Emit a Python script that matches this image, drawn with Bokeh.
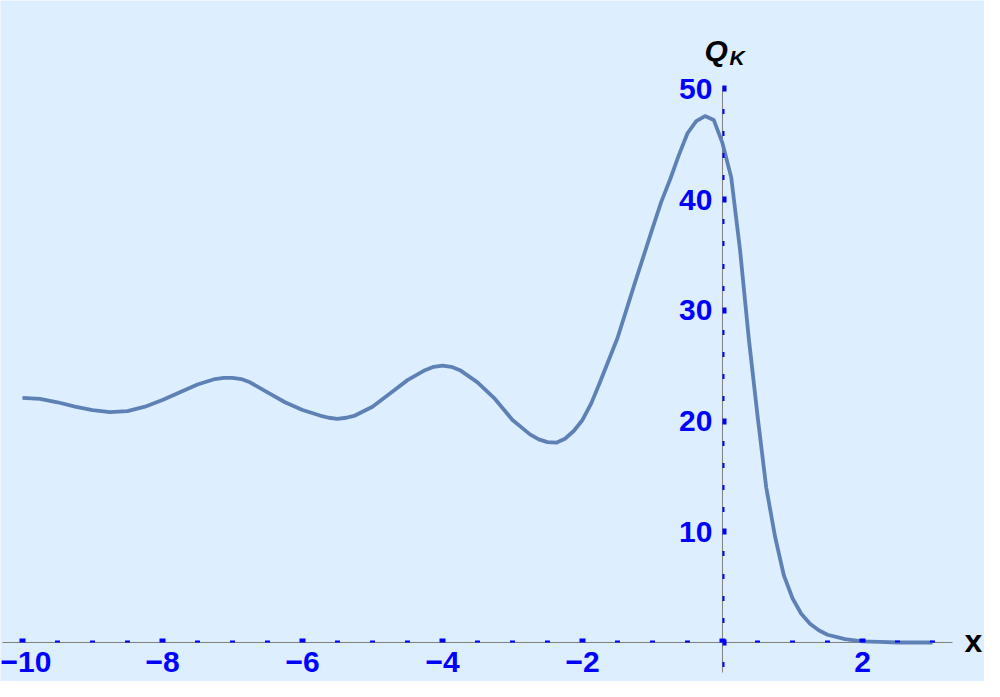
from bokeh.plotting import figure
from bokeh.models import LinearAxis, FixedTicker, Range1d, Label
from bokeh.embed import file_html
from bokeh.resources import INLINE

# ---- data ----
x_vals = [-10, -9.75, -9.5, -9.25, -9, -8.75, -8.5, -8.25, -8, -7.75, -7.5, -7.25,
          -7.125, -7, -6.875, -6.75, -6.5, -6.25, -6, -5.75, -5.625, -5.5, -5.375,
          -5.25, -5, -4.75, -4.5, -4.25, -4.125, -4, -3.875, -3.75, -3.5, -3.25,
          -3, -2.75, -2.625, -2.5, -2.375, -2.25, -2.125, -2, -1.875, -1.75,
          -1.5, -1.25, -1, -0.875, -0.75, -0.625, -0.5, -0.375, -0.25, -0.125,
          0, 0.125, 0.25, 0.375, 0.5, 0.625, 0.75, 0.875, 1, 1.125, 1.25, 1.375,
          1.5, 1.75, 2, 2.25, 2.5, 2.75, 3]
q_vals = [22.1, 22.0, 21.7, 21.3, 21.0, 20.8, 20.9, 21.3, 21.9, 22.6, 23.3, 23.8,
          23.9, 23.9, 23.8, 23.5, 22.6, 21.7, 21.0, 20.5, 20.3, 20.2, 20.3,
          20.5, 21.3, 22.5, 23.7, 24.6, 24.9, 25.0, 24.9, 24.6, 23.5, 22.0,
          20.1, 18.8, 18.35, 18.1, 18.05, 18.4, 19.1, 20.1, 21.6, 23.5,
          27.5, 32.5, 37.4, 39.8, 41.8, 44.0, 46.0, 47.1, 47.55, 47.2,
          45.1, 42.0, 35.5, 27.5, 20.5, 14.0, 9.6, 6.1, 4.0, 2.6, 1.7, 1.1,
          0.7, 0.3, 0.1, 0.05, 0.0, 0.0, 0.0]

x_major = [-10, -8, -6, -4, -2, 0, 2]
x_major_labels = ["\u221210", "\u22128", "\u22126", "\u22124", "\u22122", "", "2"]
x_minor = [-9.5, -9, -8.5, -7.5, -7, -6.5, -5.5, -5, -4.5, -3.5, -3, -2.5,
           -1.5, -1, -0.5, 0.5, 1, 1.5, 2.5, 3]
y_major = [0, 10, 20, 30, 40, 50]
y_major_labels = ["", "10", "20", "30", "40", "50"]
y_minor = [-2, 2, 4, 6, 8, 12, 14, 16, 18, 22, 24, 26, 28, 32, 34, 36, 38,
           42, 44, 46, 48]

# extent of the drawn axis lines (plot range with padding)
x_axis_extent = [-10.286, 3.286]
y_axis_extent = [-2.71, 50.24]

BG = "#DDEEFF"
TICK = "#0000FF"
AXIS = "#808080"
CURVE = "#5E81B5"

p = figure(width=984, height=681,
           x_range=Range1d(-10.314, 3.743), y_range=Range1d(-3.523, 57.99),
           output_backend="svg", toolbar_location=None,
           x_axis_type=None, y_axis_type=None,
           min_border_left=0, min_border_right=0,
           min_border_top=0, min_border_bottom=0)
p.background_fill_color = BG
p.border_fill_color = BG
p.outline_line_color = None
p.xgrid.visible = False
p.ygrid.visible = False

# axis lines
p.segment(x0=[x_axis_extent[0], 0], y0=[0, y_axis_extent[0]],
          x1=[x_axis_extent[1], 0], y1=[0, y_axis_extent[1]],
          line_color=AXIS, line_width=1)


def style_axis(ax, standoff):
    ax.axis_line_color = None
    ax.major_tick_line_color = TICK
    ax.major_tick_line_width = 6
    ax.major_tick_in = 4
    ax.major_tick_out = 0
    ax.minor_tick_line_color = TICK
    ax.minor_tick_line_width = 5
    ax.minor_tick_in = 2
    ax.minor_tick_out = 0
    ax.major_label_text_color = TICK
    ax.major_label_text_font = "Liberation Sans"
    ax.major_label_text_font_style = "bold"
    ax.major_label_text_font_size = "30px"
    ax.major_label_standoff = standoff


xaxis = LinearAxis(fixed_location=0,
                   ticker=FixedTicker(ticks=x_major, minor_ticks=x_minor),
                   major_label_overrides=dict(zip(x_major, x_major_labels)))
style_axis(xaxis, 10)
p.add_layout(xaxis, "below")

yaxis = LinearAxis(fixed_location=0,
                   ticker=FixedTicker(ticks=y_major, minor_ticks=y_minor),
                   major_label_overrides=dict(zip(y_major, y_major_labels)))
style_axis(yaxis, 10)
p.add_layout(yaxis, "left")

p.line(x_vals, q_vals, line_color=CURVE, line_width=3.8, line_join="round")

# axis titles
p.add_layout(Label(x=-0.257, y=53.5, text="Q", text_font="Liberation Sans",
                   text_font_style="bold italic", text_font_size="30px",
                   text_color="black", text_baseline="alphabetic", text_align="left"))
p.add_layout(Label(x=0.1, y=52.87, text="K", text_font="Liberation Sans",
                   text_font_style="bold italic", text_font_size="21px",
                   text_color="black", text_baseline="alphabetic", text_align="left"))
p.add_layout(Label(x=3.457, y=0.15, text="x", text_font="Liberation Sans",
                   text_font_style="bold", text_font_size="32px",
                   text_color="black", text_baseline="alphabetic", text_align="left"))

open("out.html", "w").write(file_html(p, INLINE))
